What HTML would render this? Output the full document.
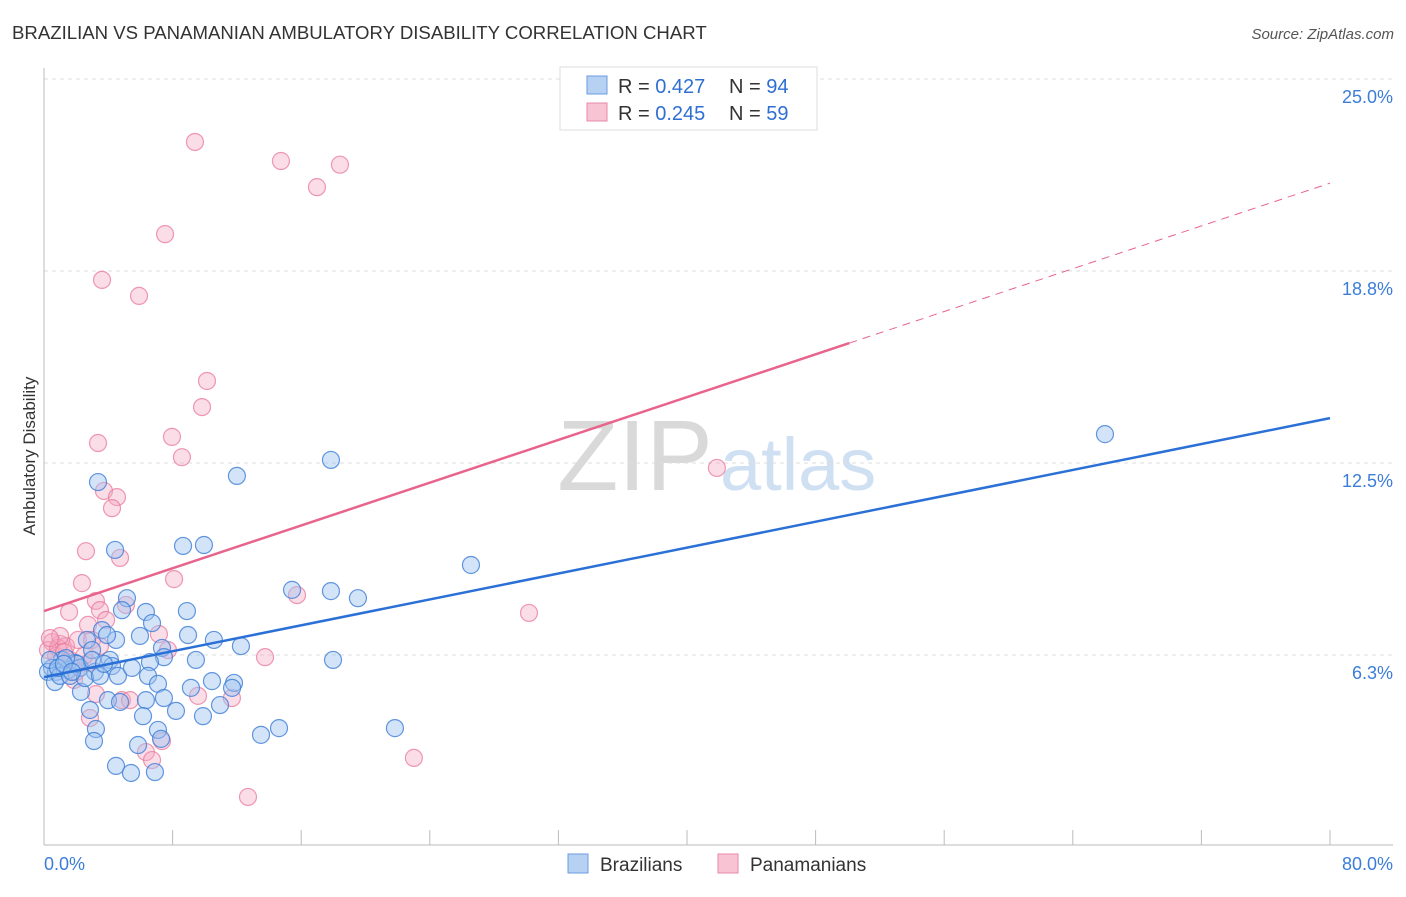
<!DOCTYPE html>
<html><head><meta charset="utf-8"><style>
body{margin:0;background:#fff;font-family:"Liberation Sans",sans-serif}
svg text{font-family:"Liberation Sans",sans-serif}
</style></head><body>
<svg id="chart" width="1406" height="892">
<text x="12" y="39" font-size="18.6" fill="#333">BRAZILIAN VS PANAMANIAN AMBULATORY DISABILITY CORRELATION CHART</text>
<text x="1394" y="39" font-size="15" fill="#555" text-anchor="end" font-style="italic">Source: ZipAtlas.com</text>
<text x="35" y="456" font-size="17" fill="#333" text-anchor="middle" transform="rotate(-90 35 456)">Ambulatory Disability</text>
<text x="635" y="490" font-size="100" fill="#d9d9d9" text-anchor="middle" font-family="Liberation Serif">ZIP</text>
<text x="720" y="490" font-size="74" fill="#cfe0f3">atlas</text>
<g id="grid"></g><g id="axes"></g><g id="pts"></g><g id="lines"></g>
<g>
<rect x="560" y="67" width="257" height="63" fill="#fff" stroke="#ddd"/>
<rect x="587" y="76" width="20" height="18" fill="#b7d1f3" stroke="#6a9be0"/>
<rect x="587" y="103" width="20" height="18" fill="#f8c3d3" stroke="#e88aa8"/>
<text x="618" y="93" font-size="20" fill="#333">R = <tspan fill="#2f6fd4">0.427</tspan></text>
<text x="729" y="93" font-size="20" fill="#333">N = <tspan fill="#2f6fd4">94</tspan></text>
<text x="618" y="120" font-size="20" fill="#333">R = <tspan fill="#2f6fd4">0.245</tspan></text>
<text x="729" y="120" font-size="20" fill="#333">N = <tspan fill="#2f6fd4">59</tspan></text>
</g>
<g>
<rect x="568" y="854" width="20" height="19" fill="#b7d1f3" stroke="#6a9be0"/>
<text x="600" y="871" font-size="19" fill="#333">Brazilians</text>
<rect x="718" y="854" width="20" height="19" fill="#f8c3d3" stroke="#e88aa8"/>
<text x="750" y="871" font-size="19" fill="#333">Panamanians</text>
</g>
</svg>
<script>
const yTicks=[6.3,12.5,18.8,25.0];
const yTickVals=[6.25,12.5,18.75,25];
const xLabels=["0.0%","80.0%"];
const braX=[3.36,12.0,17.85,66.0,4.42,8.65,9.95,26.56,15.43,17.85,19.53,5.16,4.85,6.34,8.89,6.72,3.61,4.48,3.92,8.96,10.57,5.97,12.25,7.34,2.67,2.99,7.46,4.1,6.59,9.45,17.98,1.12,1.93,0.5,0.75,1.49,2.24,3.17,4.23,4.6,5.47,6.47,7.09,10.45,11.82,11.7,9.14,7.46,6.34,2.3,3.98,4.73,10.95,8.21,2.86,6.16,9.89,3.23,7.09,14.62,21.83,13.5,3.11,5.85,7.28,4.48,5.41,6.9,0.25,0.68,1.0,1.62,2.05,1.37,0.37,0.87,2.55,3.48,1.24,1.74,2.99,3.73];
const braY=[11.88,12.08,12.6,13.44,9.67,9.8,9.83,9.18,8.37,8.33,8.1,8.1,7.71,7.65,7.68,7.29,7.06,6.74,6.9,6.9,6.74,6.87,6.54,6.48,6.74,6.41,6.18,6.09,6.02,6.09,6.09,6.09,5.99,5.83,5.7,5.76,5.83,5.7,5.89,5.57,5.83,5.57,5.31,5.4,5.34,5.18,5.18,4.85,4.78,5.05,4.78,4.72,4.62,4.43,4.46,4.26,4.26,3.84,3.81,3.87,3.87,3.65,3.45,3.32,3.52,2.64,2.41,2.44,5.7,5.37,5.57,5.57,5.96,6.15,6.09,5.83,5.5,5.57,5.96,5.7,6.09,5.96];
const panX=[9.39,14.74,18.41,16.98,7.53,3.61,5.91,10.14,9.83,7.96,3.36,8.58,41.86,3.73,4.54,4.23,4.73,2.61,8.09,2.36,15.74,3.23,1.56,30.17,3.48,2.74,3.86,7.15,5.1,0.5,1.0,0.25,1.37,0.75,2.11,2.99,7.71,13.75,1.62,2.74,1.87,3.23,4.85,5.35,9.58,11.69,2.86,7.34,6.34,6.72,23.01,12.69,0.87,2.49,3.48,1.0,1.24,0.37,1.99];
const panY=[22.95,22.33,22.21,21.48,19.95,18.46,17.94,15.17,14.32,13.35,13.15,12.69,12.34,11.59,11.39,11.03,9.41,9.63,8.72,8.59,8.2,8.01,7.65,7.62,7.71,7.23,7.39,6.93,7.88,6.67,6.61,6.41,6.54,6.22,6.74,6.74,6.41,6.18,6.09,5.99,5.44,4.98,4.78,4.78,4.92,4.85,4.2,3.45,3.09,2.83,2.9,1.63,6.48,6.22,6.54,6.87,6.35,6.8,5.7];
const braTrend=[5.53,13.96];
const panTrend=[7.68,21.61];
const panSolidEnd=50.1;
const NS="http://www.w3.org/2000/svg";
const X0=44,X1=1330,Y0=847;
const sx=v=>X0+(v/80)*(X1-X0);
const sy=v=>Y0-v*30.72;
function mk(t,a,p){const e=document.createElementNS(NS,t);for(const k in a)e.setAttribute(k,a[k]);p.appendChild(e);return e;}
const grid=document.getElementById('grid'),axes=document.getElementById('axes'),pts=document.getElementById('pts'),lines=document.getElementById('lines');
yTickVals.forEach((v,i)=>{
 const g=mk('line',{x1:X0,x2:1393,y1:sy(v),y2:sy(v),stroke:'#ddd','stroke-dasharray':'4,4'},grid);
 
 
 const t=mk('text',{x:1393,y:sy(v)+24,'font-size':18,fill:'#3b7dd8','text-anchor':'end'},axes);
 t.textContent=yTicks[i].toFixed(1)+'%';
 
 
});
const la=mk('line',{x1:X0,x2:X0,y1:68,y2:845,stroke:'#bbb'},axes);


const lb=mk('line',{x1:X0,x2:1393,y1:845,y2:845,stroke:'#bbb'},axes);


for(let i=1;i<=10;i++){
 const tk=mk('line',{x1:sx(i*8),x2:sx(i*8),y1:830,y2:845,stroke:'#bbb'},axes);
 
 
}
const xl0=mk('text',{x:44,y:870,'font-size':18,fill:'#3b7dd8'},axes);xl0.textContent=xLabels[0];


const xl1=mk('text',{x:1393,y:870,'font-size':18,fill:'#3b7dd8','text-anchor':'end'},axes);xl1.textContent=xLabels[1];


panX.forEach((x,i)=>{
 const c=mk('circle',{cx:sx(x),cy:sy(panY[i]),r:8.5,fill:'rgba(245,170,195,0.4)',stroke:'rgba(232,120,155,0.75)','stroke-width':1.2},pts);
 
 
});
braX.forEach((x,i)=>{
 const c=mk('circle',{cx:sx(x),cy:sy(braY[i]),r:8.5,fill:'rgba(160,195,240,0.45)',stroke:'rgba(60,125,215,0.8)','stroke-width':1.2},pts);
 
 
});
const pv=x=>panTrend[0]+(panTrend[1]-panTrend[0])*x/80;
const l1=mk('line',{x1:sx(0),y1:sy(braTrend[0]),x2:sx(80),y2:sy(braTrend[1]),stroke:'#2a70d6','stroke-width':2.5},lines);


const l2=mk('line',{x1:sx(0),y1:sy(pv(0)),x2:sx(panSolidEnd),y2:sy(pv(panSolidEnd)),stroke:'#e8648c','stroke-width':2.5},lines);


const l3=mk('line',{x1:sx(panSolidEnd),y1:sy(pv(panSolidEnd)),x2:sx(80),y2:sy(pv(80)),stroke:'#e8648c','stroke-width':1,'stroke-dasharray':'8,6'},lines);


</script>
</body></html>
